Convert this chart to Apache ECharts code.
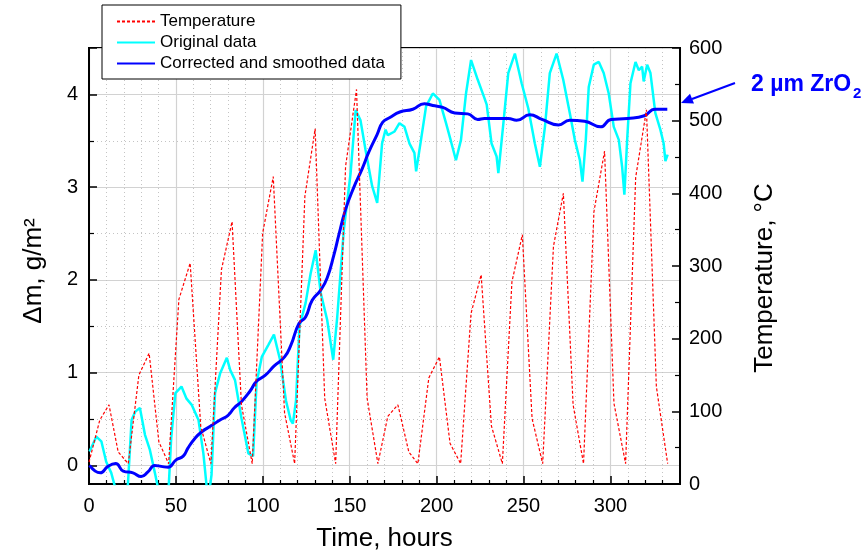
<!DOCTYPE html>
<html>
<head>
<meta charset="utf-8">
<script src="https://cdn.jsdelivr.net/npm/echarts@6/dist/echarts.min.js"></script>
<style>html,body{margin:0;padding:0;background:#fff;}#c{width:868px;height:560px;}</style>
</head>
<body>
<div id="c"></div>
<script>
// Temperature (right axis, °C)
var tempHours = [0, 6.2, 11.5, 16.8, 22.6, 28.7, 34.6, 40.2, 45.8, 51.7, 58.2, 64.3, 70.1, 76.2, 82.3, 87.7, 93.9, 99.9, 106.0, 112.5, 118.3, 124.2, 130.1, 135.6, 141.9, 147.6, 153.9, 160.0, 166.2, 171.9, 177.7, 184.0, 189.2, 195.5, 201.6, 207.7, 213.8, 219.8, 225.6, 231.5, 237.8, 243.3, 249.3, 254.9, 261.0, 267.2, 272.9, 278.5, 284.5, 290.5, 296.6, 302.0, 308.7, 314.5, 320.7, 326.4, 332.9];
var tempValues = [30, 88, 109, 44, 28, 150, 180, 58, 28, 254, 304, 79, 28, 295, 361, 109, 28, 345, 423, 98, 28, 396, 489, 118, 28, 437, 543, 118, 28, 93, 109, 44, 28, 146, 175, 56, 28, 235, 288, 80, 28, 278, 343, 90, 28, 327, 400, 109, 28, 375, 458, 111, 28, 422, 515, 134, 28];

// Original data (left axis, g/m2)
var origHours = [0.3, 4.2, 7.1, 9.9, 12.8, 14.8, 16.8, 20.3, 22.4, 24.5, 26.6, 29.3, 32.2, 35.0, 37.9, 39.8, 42.7, 45.8, 47.3, 49.7, 53.2, 56.1, 59.2, 63.0, 65.8, 67.8, 69.1, 70.5, 72.5, 75.4, 79.3, 81.2, 84.0, 87.8, 91.7, 94.4, 96.4, 99.4, 103.2, 106.4, 109.9, 113.3, 116.0, 117.3, 119.1, 121.1, 124.6, 127.5, 130.4, 133.3, 137.0, 140.5, 142.8, 146.6, 150.5, 153.4, 156.2, 159.1, 162.9, 165.8, 168.6, 170.6, 171.9, 175.8, 178.6, 181.5, 184.4, 187.2, 188.2, 191.0, 193.9, 197.8, 201.6, 205.4, 208.3, 211.1, 214.0, 216.9, 219.8, 223.6, 227.5, 228.8, 231.6, 234.5, 235.5, 238.4, 241.2, 245.0, 248.9, 252.7, 256.5, 259.4, 262.3, 265.1, 269.0, 272.8, 276.6, 279.5, 282.4, 283.9, 285.8, 287.5, 290.4, 293.3, 296.1, 299.0, 301.9, 304.8, 306.7, 308.0, 309.6, 311.5, 314.4, 316.3, 318.2, 319.1, 321.1, 323.0, 325.8, 328.7, 330.6, 331.6, 332.9];
var origValues = [0.15, 0.31, 0.26, 0.04, -0.08, -0.22, -0.4, -0.4, -0.2, 0.49, 0.58, 0.62, 0.33, 0.17, -0.08, -0.25, -0.4, -0.25, 0.3, 0.78, 0.85, 0.72, 0.65, 0.49, 0.13, -0.25, -0.3, -0.1, 0.78, 0.99, 1.16, 1.03, 0.92, 0.50, 0.13, 0.10, 0.89, 1.17, 1.30, 1.41, 1.14, 0.70, 0.49, 0.45, 0.70, 1.50, 1.75, 2.07, 2.32, 1.86, 1.57, 1.14, 1.60, 2.54, 3.15, 3.83, 3.72, 3.40, 3.01, 2.83, 3.47, 3.62, 3.56, 3.60, 3.69, 3.65, 3.47, 3.37, 3.17, 3.51, 3.87, 4.01, 3.94, 3.69, 3.49, 3.29, 3.51, 4.01, 4.37, 4.16, 3.96, 3.89, 3.47, 3.33, 3.15, 3.69, 4.23, 4.44, 4.12, 3.85, 3.47, 3.22, 3.65, 4.23, 4.44, 4.16, 3.80, 3.51, 3.29, 3.06, 3.51, 4.08, 4.32, 4.35, 4.23, 4.01, 3.65, 3.51, 3.22, 2.92, 3.51, 4.12, 4.35, 4.26, 4.30, 4.14, 4.32, 4.23, 3.80, 3.62, 3.47, 3.28, 3.35];

// Corrected and smoothed data (left axis, g/m2)
var corrHours = [0.3, 6.5, 10.9, 15.3, 19.7, 25.3, 30.0, 33.9, 37.8, 41.5, 45.5, 50.1, 54.2, 57.0, 60.9, 64.7, 70.5, 75.4, 80.0, 83.5, 87.8, 92.6, 96.5, 101.3, 106.4, 112.5, 116.2, 120.8, 124.6, 128.4, 133.3, 137.0, 140.9, 143.8, 147.6, 152.4, 157.2, 161.0, 165.8, 169.0, 173.1, 178.8, 186.3, 192.9, 197.8, 203.5, 210.4, 217.9, 223.6, 227.5, 233.5, 241.2, 246.0, 253.6, 260.6, 270.1, 276.5, 285.1, 294.3, 300.3, 309.8, 319.5, 325.6, 332.7];
var corrValues = [0.0, -0.08, -0.01, 0.02, -0.06, -0.08, -0.12, -0.07, 0.0, -0.01, -0.02, 0.06, 0.10, 0.19, 0.29, 0.36, 0.43, 0.49, 0.54, 0.62, 0.69, 0.80, 0.91, 0.97, 1.07, 1.17, 1.30, 1.53, 1.60, 1.78, 1.89, 2.02, 2.27, 2.49, 2.76, 3.00, 3.20, 3.38, 3.57, 3.70, 3.75, 3.81, 3.84, 3.90, 3.88, 3.86, 3.80, 3.79, 3.73, 3.74, 3.74, 3.74, 3.72, 3.78, 3.73, 3.67, 3.72, 3.71, 3.65, 3.73, 3.74, 3.77, 3.84, 3.84];

var FONT = "'Liberation Sans', Arial, sans-serif";
function pairs(xs, ys) { return xs.map(function (x, i) { return [x, ys[i]]; }); }

var chart = echarts.init(document.getElementById('c'), null, { renderer: 'canvas' });
var axisLineStyle = { color: '#000', width: 2 };
var option = {
  animation: false,
  backgroundColor: '#fff',
  textStyle: { fontFamily: FONT },
  grid: { left: 89, right: 188, top: 48, bottom: 76, show: true, borderColor: '#000', borderWidth: 2, backgroundColor: 'transparent', containLabel: false },
  legend: {
    data: ['Temperature', 'Original data', 'Corrected and smoothed data'],
    orient: 'vertical', left: 102, top: 5,
    backgroundColor: '#fff', borderColor: '#000', borderWidth: 1,
    padding: [8, 16, 7, 14], itemGap: 4, itemWidth: 38, itemHeight: 4,
    itemStyle: { opacity: 0 },
    textStyle: { fontFamily: FONT, fontSize: 17, color: '#000' },
    z: 10
  },
  xAxis: {
    type: 'value', min: 0, max: 340, interval: 50,
    name: 'Time, hours', nameLocation: 'middle', nameGap: 42,
    nameTextStyle: { fontFamily: FONT, fontSize: 26, color: '#000' },
    axisLine: { show: true, onZero: false, lineStyle: axisLineStyle },
    axisTick: { show: true, inside: true, length: 8, lineStyle: { color: '#000', width: 1.5 } },
    minorTick: { show: true, splitNumber: 5, length: 4, lineStyle: { color: '#000', width: 1.2 } },
    axisLabel: { fontFamily: FONT, fontSize: 20, color: '#000', margin: 12, showMaxLabel: false },
    splitLine: { show: true, lineStyle: { color: '#d2d2d2', width: 1.2 } },
    minorSplitLine: { show: true, lineStyle: { color: '#c4c4c4', width: 1, type: [1, 3] } }
  },
  yAxis: [{
    type: 'value', min: -0.2, max: 4.5, splitNumber: 5, position: 'left',
    name: 'Δm, g/m²', nameLocation: 'middle', nameGap: 42,
    nameTextStyle: { fontFamily: FONT, fontSize: 26, color: '#000', padding: [0, 10, 0, 0] },
    axisLine: { show: true, onZero: false, lineStyle: axisLineStyle },
    axisTick: { show: true, inside: true, length: 8, lineStyle: { color: '#000', width: 1.5 } },
    minorTick: { show: true, splitNumber: 2, length: 5, lineStyle: { color: '#000', width: 1.2 } },
    axisLabel: { fontFamily: FONT, fontSize: 20, color: '#000', margin: 11, showMinLabel: false, showMaxLabel: false },
    splitLine: { show: true, lineStyle: { color: '#d2d2d2', width: 1.2 } },
    minorSplitLine: { show: true, lineStyle: { color: '#c4c4c4', width: 1, type: [1, 3] } }
  }, {
    type: 'value', min: 0, max: 600, interval: 100, position: 'right',
    name: 'Temperature, °C', nameLocation: 'middle', nameGap: 72,
    nameTextStyle: { fontFamily: FONT, fontSize: 26, color: '#000', padding: [0, 24, 0, 0] },
    axisLine: { show: true, onZero: false, lineStyle: axisLineStyle },
    axisTick: { show: true, inside: true, length: 8, lineStyle: { color: '#000', width: 1.5 } },
    minorTick: { show: true, splitNumber: 2, length: 5, lineStyle: { color: '#000', width: 1.2 } },
    axisLabel: { fontFamily: FONT, fontSize: 20, color: '#000', margin: 9 },
    splitLine: { show: false }
  }],
  series: [{
    name: 'Original data', type: 'line', yAxisIndex: 0, symbol: 'none', smooth: false,
    data: pairs(origHours, origValues), clip: true,
    lineStyle: { color: '#00ffff', width: 2.5 }, itemStyle: { color: '#00ffff' }, z: 2
  }, {
    name: 'Corrected and smoothed data', type: 'line', yAxisIndex: 0, symbol: 'none', smooth: true,
    data: pairs(corrHours, corrValues), clip: true,
    lineStyle: { color: '#0000ff', width: 3 }, itemStyle: { color: '#0000ff' }, z: 3
  }, {
    name: 'Temperature', type: 'line', yAxisIndex: 1, symbol: 'none',
    data: pairs(tempHours, tempValues), clip: true,
    lineStyle: { color: '#ff0000', width: 1.2, type: [3, 2] }, itemStyle: { color: '#ff0000' }, z: 4
  }],
  graphic: [
    { type: 'line', shape: { x1: 735, y1: 83, x2: 692, y2: 99 }, style: { stroke: '#0000ff', lineWidth: 2 }, z: 20 },
    { type: 'polygon', shape: { points: [[681, 103], [694, 103.6], [690, 93.8]] }, style: { fill: '#0000ff' }, z: 20 },
    { type: 'text', left: 751, top: 73, style: { text: '2 µm ZrO', font: 'bold 23px ' + FONT, fill: '#0000ff' }, z: 20 },
    { type: 'text', left: 853, top: 86, style: { text: '2', font: 'bold 15px ' + FONT, fill: '#0000ff' }, z: 20 }
  ]
};
chart.setOption(option);
</script>
</body>
</html>
